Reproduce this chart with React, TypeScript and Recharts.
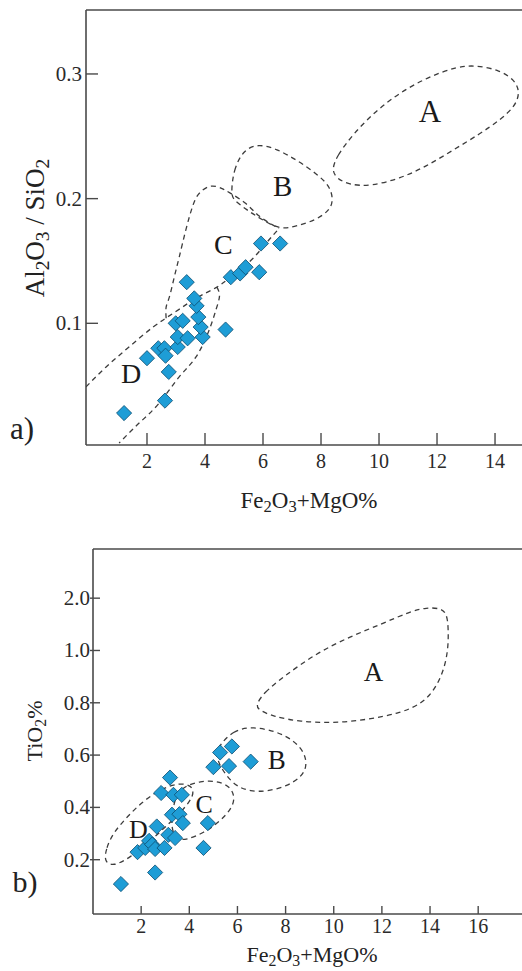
import React from 'react';
import { ScatterChart, Scatter, XAxis, YAxis, ReferenceLine } from 'recharts';

const FONT = 'Liberation Serif, Times New Roman, serif';
const AX = '#4a4a4a';
const DASH = '#3c3c3c';
const FILL = '#1e9dd6';
const EDGE = '#0c4d70';

// ---------- panel a) Fe2O3+MgO vs Al2O3/SiO2 ----------
const aX = [1.21, 2.62, 2.75, 2.0, 2.39, 2.6, 2.64, 3.06, 3.06, 3.4, 2.99, 3.23, 3.92, 3.85, 3.77, 3.71, 3.63, 3.37, 4.71, 4.89, 5.21, 5.4, 5.87, 5.93, 6.59];
const aY = [0.028, 0.038, 0.061, 0.072, 0.08, 0.08, 0.074, 0.081, 0.089, 0.088, 0.1, 0.102, 0.089, 0.097, 0.105, 0.114, 0.12, 0.133, 0.095, 0.137, 0.14, 0.145, 0.141, 0.164, 0.164];
const aXTicks = [2, 4, 6, 8, 10, 12, 14];
const aYTicks = [0.1, 0.2, 0.3];
const aYTickLabels = ['0.1', '0.2', '0.3'];
const aXDomain = [-0.103, 14.93];
const aYDomain = [0.0024, 0.3513];

const aFieldA: [number, number][] = [[8.37, 0.223], [8.54, 0.234], [9.11, 0.252], [9.92, 0.271], [10.72, 0.285], [11.64, 0.297], [12.68, 0.306], [13.37, 0.307], [14.17, 0.303], [14.69, 0.295], [14.86, 0.285], [14.69, 0.274], [14.17, 0.263], [13.48, 0.252], [12.56, 0.239], [11.64, 0.226], [10.72, 0.216], [9.69, 0.21], [9.0, 0.211], [8.54, 0.216]];
const aFieldB: [number, number][] = [[4.9, 0.204], [4.98, 0.223], [5.32, 0.239], [5.84, 0.244], [6.47, 0.24], [7.16, 0.231], [7.85, 0.22], [8.31, 0.21], [8.42, 0.199], [8.31, 0.191], [7.85, 0.183], [7.16, 0.178], [6.59, 0.175], [5.9, 0.184], [5.44, 0.191], [4.98, 0.199]];
const aFieldC: [number, number][] = [[2.66, 0.104], [2.66, 0.113], [2.77, 0.121], [2.94, 0.137], [3.11, 0.153], [3.34, 0.175], [3.59, 0.195], [3.83, 0.205], [4.21, 0.21], [4.59, 0.208], [4.9, 0.204], [5.41, 0.196], [5.87, 0.186], [6.33, 0.179], [6.55, 0.176]];
const aLineUpper: [number, number][] = [[-0.103, 0.049], [0.59, 0.065], [1.38, 0.081], [2.21, 0.097], [2.9, 0.108], [3.48, 0.117], [4.0, 0.124], [4.41, 0.129], [4.83, 0.136], [5.52, 0.149], [6.1, 0.164], [6.55, 0.176]];
const aLineLower: [number, number][] = [[4.41, 0.129], [4.5, 0.122], [4.38, 0.111], [4.15, 0.095], [3.69, 0.073], [3.11, 0.057], [2.42, 0.036], [1.73, 0.02], [1.04, 0.004]];
const aLabels = [
  { x: 11.76, y: 0.27, label: 'A', size: 31 },
  { x: 6.68, y: 0.21, label: 'B', size: 29 },
  { x: 4.63, y: 0.163, label: 'C', size: 28 },
  { x: 1.45, y: 0.06, label: 'D', size: 28 },
];

// ---------- panel b) Fe2O3+MgO vs TiO2 ----------
const bX = [1.16, 2.58, 1.85, 2.17, 2.33, 2.46, 2.65, 2.58, 2.97, 3.13, 3.41, 3.28, 3.59, 3.73, 2.83, 3.2, 3.34, 3.69, 4.59, 4.77, 5.0, 5.28, 5.77, 5.65, 6.55];
const bY = [0.107, 0.151, 0.229, 0.245, 0.272, 0.258, 0.327, 0.241, 0.245, 0.295, 0.283, 0.372, 0.374, 0.34, 0.455, 0.514, 0.448, 0.448, 0.245, 0.34, 0.554, 0.61, 0.633, 0.558, 0.575];
const bXTicks = [2, 4, 6, 8, 10, 12, 14, 16];
const bYTicks = [0.2, 0.4, 0.6, 0.8, 1.0, 1.2];
const bYTickLabels = ['0.2', '0.4', '0.6', '0.8', '1.0', '2.0'];
const bXDomain = [0, 17.82];
const bYDomain = [-0.0076, 1.388];

const bFieldA: [number, number][] = [[6.77, 0.792], [7.08, 0.837], [7.91, 0.9], [9.29, 0.99], [10.68, 1.053], [12.06, 1.104], [13.17, 1.149], [13.86, 1.164], [14.41, 1.162], [14.69, 1.143], [14.76, 1.091], [14.76, 1.015], [14.62, 0.938], [14.28, 0.862], [13.72, 0.799], [12.76, 0.76], [11.37, 0.735], [9.98, 0.722], [8.6, 0.728], [7.49, 0.747], [6.87, 0.773]];
const bFieldB: [number, number][] = [[5.07, 0.621], [5.83, 0.697], [6.66, 0.709], [7.63, 0.69], [8.32, 0.658], [8.81, 0.608], [8.88, 0.556], [8.67, 0.518], [8.05, 0.48], [7.22, 0.461], [6.53, 0.461], [5.97, 0.48], [5.56, 0.518], [5.21, 0.569]];
const bFieldC: [number, number][] = [[3.29, 0.383], [3.45, 0.448], [3.83, 0.483], [4.45, 0.5], [5.14, 0.502], [5.7, 0.48], [5.9, 0.439], [5.77, 0.397], [5.28, 0.346], [4.59, 0.302], [3.9, 0.276], [3.45, 0.276], [3.25, 0.322]];
const bFieldD: [number, number][] = [[0.46, 0.192], [0.55, 0.245], [0.84, 0.303], [1.42, 0.364], [2.08, 0.425], [2.91, 0.475], [3.62, 0.494], [4.12, 0.483], [4.2, 0.448], [3.83, 0.399], [3.2, 0.342], [2.37, 0.27], [1.54, 0.208], [0.84, 0.174]];
const bLabels = [
  { x: 11.65, y: 0.919, label: 'A', size: 27 },
  { x: 7.63, y: 0.582, label: 'B', size: 27 },
  { x: 4.62, y: 0.41, label: 'C', size: 26 },
  { x: 1.89, y: 0.314, label: 'D', size: 26 },
];

const toPts = (xs: number[], ys: number[]) => xs.map((x, i) => ({ x, y: ys[i] }));
const toObj = (arr: [number, number][]) => arr.map(([x, y]) => ({ x, y }));

const Diamond = (p: any) => {
  const { cx, cy } = p;
  if (cx == null || cy == null) return <g />;
  const r = 7.6;
  return (
    <polygon
      points={`${cx},${cy - r} ${cx + r},${cy} ${cx},${cy + r} ${cx - r},${cy}`}
      fill={FILL}
      stroke={EDGE}
      strokeWidth={0.8}
    />
  );
};

const Empty = () => <g />;

const LetterShape = (p: any) => {
  const d = p.payload || p;
  return (
    <text x={p.cx} y={p.cy} textAnchor="middle" dominantBaseline="central" style={{ fontFamily: FONT }} fontSize={d.size} fill="#1a1a1a">
      {d.label}
    </text>
  );
};

const makeXTick = (len: number, base: number) => (props: any) => {
  const { x, y, payload } = props;
  return (
    <g>
      <line x1={x} y1={y} x2={x} y2={y - len} stroke={AX} strokeWidth={1.4} />
      <text x={x} y={y + base} textAnchor="middle" style={{ fontFamily: FONT }} fontSize={20} fill="#2a2a2a">
        {payload.value}
      </text>
    </g>
  );
};

const makeYTick = (ticks: number[], labels: string[], inLen: number, outLen: number, gap: number) => (props: any) => {
  const { x, y, payload } = props;
  const idx = ticks.findIndex((t) => Math.abs(t - payload.value) < 1e-9);
  const lab = idx >= 0 ? labels[idx] : String(payload.value);
  return (
    <g>
      <line x1={x - outLen} y1={y} x2={x + inLen} y2={y} stroke={AX} strokeWidth={1.4} />
      <text x={x - gap} y={y} dy={7} textAnchor="end" style={{ fontFamily: FONT }} fontSize={21} fill="#2a2a2a">
        {lab}
      </text>
    </g>
  );
};

const dashLine = { stroke: DASH, strokeWidth: 1.3, strokeDasharray: '5 4', fill: 'none' };

const subStyle: React.CSSProperties = { fontSize: '0.72em', verticalAlign: '-0.28em', lineHeight: 0 };

export default function App() {
  return (
    <div style={{ position: 'absolute', left: 0, top: 0, width: 522, height: 971, overflow: 'hidden', background: '#fff', fontFamily: FONT, color: '#222' }}>
      <div style={{ position: 'absolute', left: 0, top: 0 }}>
        <ScatterChart width={522} height={480} margin={{ top: 10, right: 0, bottom: 0, left: 0 }}>
          <XAxis
            type="number"
            dataKey="x"
            domain={aXDomain}
            ticks={aXTicks}
            interval={0}
            allowDataOverflow
            height={35}
            tickSize={0}
            tickMargin={0}
            tickLine={false}
            axisLine={{ stroke: AX, strokeWidth: 1.6 }}
            tick={makeXTick(12, 23)}
          />
          <YAxis
            type="number"
            dataKey="y"
            domain={aYDomain}
            ticks={aYTicks}
            interval={0}
            allowDataOverflow
            width={86}
            tickSize={0}
            tickMargin={0}
            tickLine={false}
            axisLine={{ stroke: AX, strokeWidth: 1.6 }}
            tick={makeYTick(aYTicks, aYTickLabels, 12, 0, 4)}
          />
          <ReferenceLine y={aYDomain[1]} stroke={AX} strokeWidth={1.6} />
          <Scatter data={toObj(aFieldA)} shape={Empty} line={dashLine} lineJointType="basisClosed" isAnimationActive={false} />
          <Scatter data={toObj(aFieldB)} shape={Empty} line={dashLine} lineJointType="basisClosed" isAnimationActive={false} />
          <Scatter data={toObj(aFieldC)} shape={Empty} line={dashLine} lineJointType="natural" isAnimationActive={false} />
          <Scatter data={toObj(aLineUpper)} shape={Empty} line={dashLine} lineJointType="natural" isAnimationActive={false} />
          <Scatter data={toObj(aLineLower)} shape={Empty} line={dashLine} lineJointType="natural" isAnimationActive={false} />
          <Scatter data={aLabels} shape={LetterShape} isAnimationActive={false} />
          <Scatter data={toPts(aX, aY)} shape={Diamond} isAnimationActive={false} />
        </ScatterChart>
      </div>

      <div style={{ position: 'absolute', left: 0, top: 480 }}>
        <ScatterChart width={522} height={491} margin={{ top: 69, right: 0, bottom: 0, left: 0 }}>
          <XAxis
            type="number"
            dataKey="x"
            domain={bXDomain}
            ticks={bXTicks}
            interval={0}
            allowDataOverflow
            height={57}
            tickSize={0}
            tickMargin={0}
            tickLine={false}
            axisLine={{ stroke: AX, strokeWidth: 1.6 }}
            tick={makeXTick(8, 19)}
          />
          <YAxis
            type="number"
            dataKey="y"
            domain={bYDomain}
            ticks={bYTicks}
            interval={0}
            allowDataOverflow
            width={93}
            tickSize={0}
            tickMargin={0}
            tickLine={false}
            axisLine={{ stroke: AX, strokeWidth: 1.6 }}
            tick={makeYTick(bYTicks, bYTickLabels, 7, 3, 3)}
          />
          <ReferenceLine y={bYDomain[1]} stroke={AX} strokeWidth={1.6} />
          <Scatter data={toObj(bFieldA)} shape={Empty} line={dashLine} lineJointType="basisClosed" isAnimationActive={false} />
          <Scatter data={toObj(bFieldB)} shape={Empty} line={dashLine} lineJointType="basisClosed" isAnimationActive={false} />
          <Scatter data={toObj(bFieldC)} shape={Empty} line={dashLine} lineJointType="basisClosed" isAnimationActive={false} />
          <Scatter data={toObj(bFieldD)} shape={Empty} line={dashLine} lineJointType="basisClosed" isAnimationActive={false} />
          <Scatter data={bLabels} shape={LetterShape} isAnimationActive={false} />
          <Scatter data={toPts(bX, bY)} shape={Diamond} isAnimationActive={false} />
        </ScatterChart>
      </div>

      {/* axis titles and panel labels */}
      <div style={{ position: 'absolute', left: 35, top: 228, transform: 'translate(-50%, -50%) rotate(-90deg)', whiteSpace: 'nowrap', fontSize: 27, lineHeight: 1 }}>
        Al<span style={subStyle}>2</span>O<span style={subStyle}>3</span> / SiO<span style={subStyle}>2</span>
      </div>
      <div style={{ position: 'absolute', left: 309, top: 500, transform: 'translate(-50%, -50%)', whiteSpace: 'nowrap', fontSize: 23, lineHeight: 1 }}>
        Fe<span style={subStyle}>2</span>O<span style={subStyle}>3</span>+MgO%
      </div>
      <div style={{ position: 'absolute', left: 22, top: 428, transform: 'translate(-50%, -50%)', whiteSpace: 'nowrap', fontSize: 31, lineHeight: 1 }}>
        a)
      </div>
      <div style={{ position: 'absolute', left: 35, top: 731, transform: 'translate(-50%, -50%) rotate(-90deg)', whiteSpace: 'nowrap', fontSize: 22, lineHeight: 1 }}>
        TiO<span style={subStyle}>2</span>%
      </div>
      <div style={{ position: 'absolute', left: 312, top: 955, transform: 'translate(-50%, -50%)', whiteSpace: 'nowrap', fontSize: 22, lineHeight: 1 }}>
        Fe<span style={subStyle}>2</span>O<span style={subStyle}>3</span>+MgO%
      </div>
      <div style={{ position: 'absolute', left: 25, top: 882, transform: 'translate(-50%, -50%)', whiteSpace: 'nowrap', fontSize: 30, lineHeight: 1 }}>
        b)
      </div>
    </div>
  );
}
